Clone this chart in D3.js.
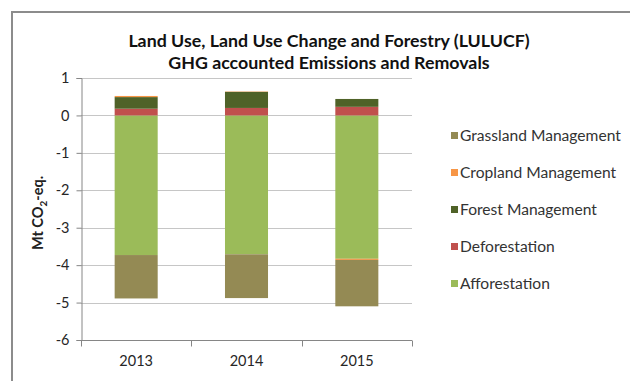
<!DOCTYPE html>
<html>
<head>
<meta charset="utf-8">
<script src="https://cdn.jsdelivr.net/npm/d3@7"></script>
<style>
  body { margin: 0; background: #fff; }
  svg { display: block; }
  text { font-family: Lato, "Open Sans", sans-serif; }
</style>
</head>
<body>
<script>
const years = ["2013", "2014", "2015"];
const afforestation = [-3.73, -3.71, -3.83];
const deforestation = [0.18, 0.20, 0.23];
const forestManagement = [0.31, 0.43, 0.21];
const croplandManagement = [0.03, 0.01, -0.03];
const grasslandManagement = [-1.16, -1.17, -1.24];
const seriesNames = ["Afforestation", "Deforestation", "Forest Management", "Cropland Management", "Grassland Management"];
const seriesColors = ["#9BBB59", "#C0504D", "#4F6228", "#F79646", "#948A54"];
const yTicks = [1, 0, -1, -2, -3, -4, -5, -6];
const titleLines = ["Land Use, Land Use Change and Forestry (LULUCF)", "GHG accounted Emissions and Removals"];

const seriesValues = [afforestation, deforestation, forestManagement, croplandManagement, grasslandManagement];
const table = years.map((yr, i) => {
  const row = { year: yr };
  seriesNames.forEach((n, k) => row[n] = seriesValues[k][i]);
  return row;
});

const W = 630, H = 381;
const svg = d3.select("body").append("svg").attr("width", W).attr("height", H);

// outer frame (top and left edges visible)
svg.append("line").attr("x1", 11).attr("x2", W).attr("y1", 12).attr("y2", 12)
  .attr("stroke", "#8c8c8c").attr("stroke-width", 2);
svg.append("line").attr("x1", 12).attr("x2", 12).attr("y1", 11).attr("y2", H)
  .attr("stroke", "#8c8c8c").attr("stroke-width", 2);

const pLeft = 81, pRight = 412, pTop = 78, pBottom = 340;
const x = d3.scaleBand().domain(years).range([pLeft, pRight]).paddingInner(0.61).paddingOuter(0.305);
const y = d3.scaleLinear().domain([-6, 1]).range([pBottom, pTop]);

// gridlines
svg.append("g").selectAll("line").data(yTicks.filter(t => t !== -6)).join("line")
  .attr("x1", pLeft).attr("x2", pRight)
  .attr("y1", d => Math.round(y(d)) + 0.5).attr("y2", d => Math.round(y(d)) + 0.5)
  .attr("stroke", "#c6c6c6").attr("stroke-width", 1);

// stacked bars
const stack = d3.stack().keys(seriesNames).offset(d3.stackOffsetDiverging);
const layers = stack(table);
svg.append("g").selectAll("g").data(layers).join("g")
  .attr("fill", (d, i) => seriesColors[i])
  .selectAll("rect").data(d => d).join("rect")
  .attr("x", d => x(d.data.year))
  .attr("width", x.bandwidth())
  .attr("y", d => y(Math.max(d[0], d[1])))
  .attr("height", d => Math.abs(y(d[0]) - y(d[1])));

// y axis
const yAxis = svg.append("g").attr("transform", `translate(${pLeft + 0.5},0)`)
  .call(d3.axisLeft(y).tickValues(yTicks).tickSize(5).tickPadding(7).tickFormat(d3.format("d")));
yAxis.select(".domain").attr("stroke", "#868686");
yAxis.selectAll(".tick line").attr("stroke", "#868686");
yAxis.selectAll("text").attr("font-size", 14.5).attr("fill", "#262626")
  .text(d => d < 0 ? "-" + Math.abs(d) : d);

// x axis
const xAxis = svg.append("g").attr("transform", `translate(0,${pBottom + 0.5})`)
  .call(d3.axisBottom(x).tickSize(0).tickPadding(15));
xAxis.select(".domain").attr("stroke", "#868686").attr("d", `M${pLeft},0H${pRight}`);
xAxis.selectAll("text").attr("font-size", 14.5).attr("fill", "#262626");
const bounds = [pLeft, ...years.map(yr => x(yr) + x.bandwidth() + x.step() * x.paddingInner() / 2)];
xAxis.append("g").selectAll("line").data(bounds).join("line")
  .attr("x1", d => Math.round(d) + 0.5).attr("x2", d => Math.round(d) + 0.5)
  .attr("y1", 0).attr("y2", 6).attr("stroke", "#868686");

// y title
const yt = svg.append("text")
  .attr("transform", "translate(43,213) rotate(-90)")
  .attr("text-anchor", "middle").attr("font-size", 14.5).attr("font-weight", "bold").attr("fill", "#222");
yt.append("tspan").text("Mt CO");
yt.append("tspan").text("2").attr("font-size", 10).attr("dy", 4);
yt.append("tspan").text("-eq.").attr("dy", -4);

// title
svg.append("g").selectAll("text").data(titleLines).join("text")
  .attr("x", 329).attr("y", (d, i) => 47 + i * 22)
  .attr("text-anchor", "middle").attr("font-size", 17.8).attr("font-weight", "bold").attr("fill", "#111")
  .text(d => d);

// legend
const legendOrder = [4, 3, 2, 1, 0];
const lg = svg.append("g").selectAll("g").data(legendOrder).join("g")
  .attr("transform", (d, i) => `translate(451,${136 + i * 37})`);
lg.append("rect").attr("x", 0).attr("y", -4).attr("width", 7).attr("height", 7)
  .attr("fill", d => seriesColors[d]);
lg.append("text").attr("x", 9).attr("y", 5).attr("font-size", 15.6).attr("fill", "#333")
  .text(d => seriesNames[d]);
</script>
</body>
</html>
